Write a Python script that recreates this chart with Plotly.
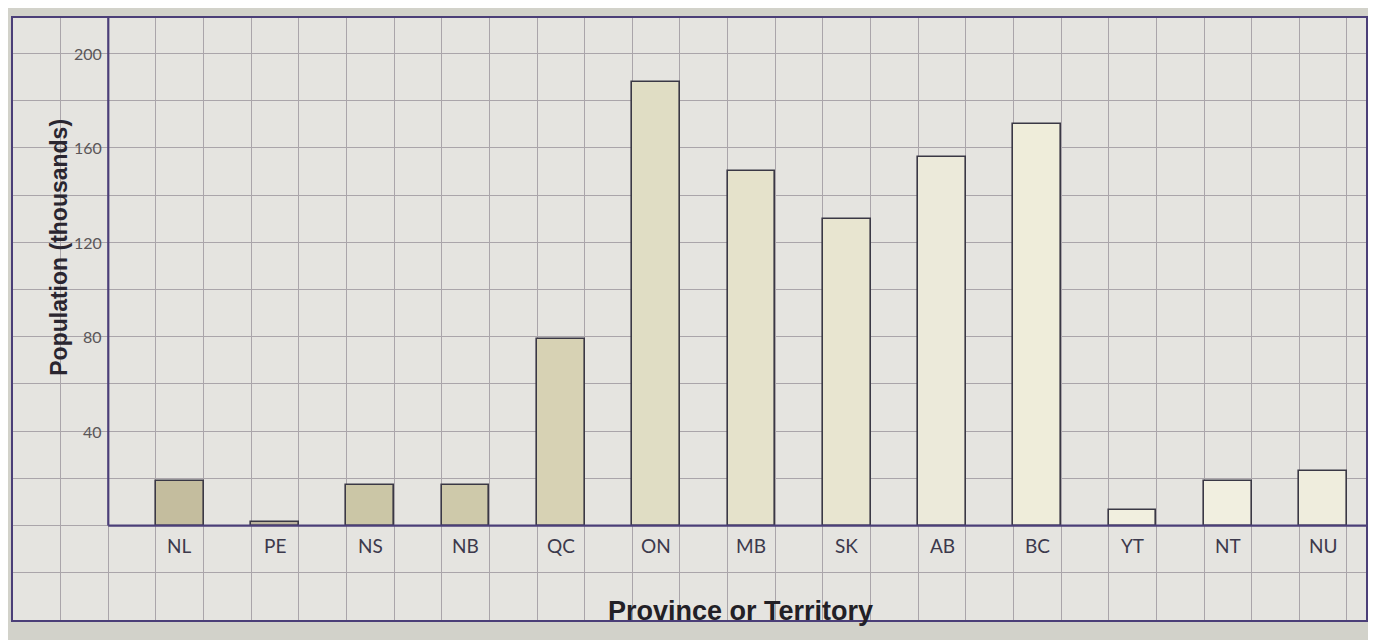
import plotly.graph_objects as go

# ---- data ----
categories = ["NL", "PE", "NS", "NB", "QC", "ON", "MB", "SK", "AB", "BC", "YT", "NT", "NU"]
population_k = [19, 1.5, 17, 17, 79, 188, 150, 130, 156, 170, 6.5, 19, 23]
y_tick_values = [40, 80, 120, 160, 200]
y_tick_labels = ["40", "80", "120", "160", "200"]
x_title = "Province or Territory"
y_title = "Population (thousands)"

# ---- styles ----
bar_colors = ["#c4bd9e", "#bbb39d", "#cbc6a6", "#cec9aa", "#d7d2b4", "#e0ddc4", "#e5e2cb",
              "#e8e5d0", "#eceada", "#efedda", "#f1efdf", "#f1efe0", "#efeddd"]
border_col = "#4b3f78"
grid_col = "#aaa5aa"

positions = list(range(len(categories)))
y_axis_x = positions[0] - 0.75
x_min, x_max = positions[0] - 1.75, positions[-1] + 0.45
y_min, y_max = -40, 215

fig = go.Figure()
fig.add_trace(go.Bar(
    x=positions, y=population_k, width=0.5,
    marker=dict(color=bar_colors, line=dict(color="#3a3845", width=1.6)),
    hoverinfo="x+y", showlegend=False,
))

annotations = []
for p, c in zip(positions, categories):
    annotations.append(dict(x=p, y=0, xref="x", yref="y", text=c, showarrow=False,
                            yshift=-20, font=dict(family="Lato", size=19, color="#3c394c")))
for v, t in zip(y_tick_values, y_tick_labels):
    annotations.append(dict(x=y_axis_x, y=v, xref="x", yref="y", text=t, showarrow=False,
                            xanchor="right", xshift=-4,
                            font=dict(family="Lato", size=16, color="#5a5658")))
annotations.append(dict(x=positions[0] - 1.27, y=118, xref="x", yref="y", text="<b>" + y_title + "</b>",
                        textangle=-90, showarrow=False,
                        font=dict(family="Liberation Sans", size=23, color="#2a2630")))
annotations.append(dict(x=0.538, y=-36, xref="paper", yref="y", text="<b>" + x_title + "</b>",
                        showarrow=False,
                        font=dict(family="Liberation Sans", size=27, color="#222026")))

shapes = [
    dict(type="line", xref="x", yref="y", x0=y_axis_x, x1=x_max, y0=0, y1=0,
         line=dict(color=border_col, width=2.2)),
    dict(type="line", xref="x", yref="y", x0=y_axis_x, x1=y_axis_x, y0=0, y1=y_max,
         line=dict(color=border_col, width=2.2)),
]

fig.update_layout(
    width=1376, height=640,
    margin=dict(l=5, r=18, t=10, b=28),
    paper_bgcolor="#d2d2ca",
    plot_bgcolor="#e5e4e0",
    annotations=annotations,
    shapes=shapes,
    bargap=0,
    xaxis=dict(range=[x_min, x_max], tick0=-0.25, dtick=0.5, showgrid=True, gridcolor=grid_col,
               gridwidth=1, showticklabels=False, ticks="", zeroline=False,
               showline=True, mirror=True, linecolor=border_col, linewidth=2),
    yaxis=dict(range=[y_min, y_max], tick0=0, dtick=20, showgrid=True, gridcolor=grid_col,
               gridwidth=1, showticklabels=False, ticks="", zeroline=False,
               showline=True, mirror=True, linecolor=border_col, linewidth=2),
)

fig.write_html("out.html")
